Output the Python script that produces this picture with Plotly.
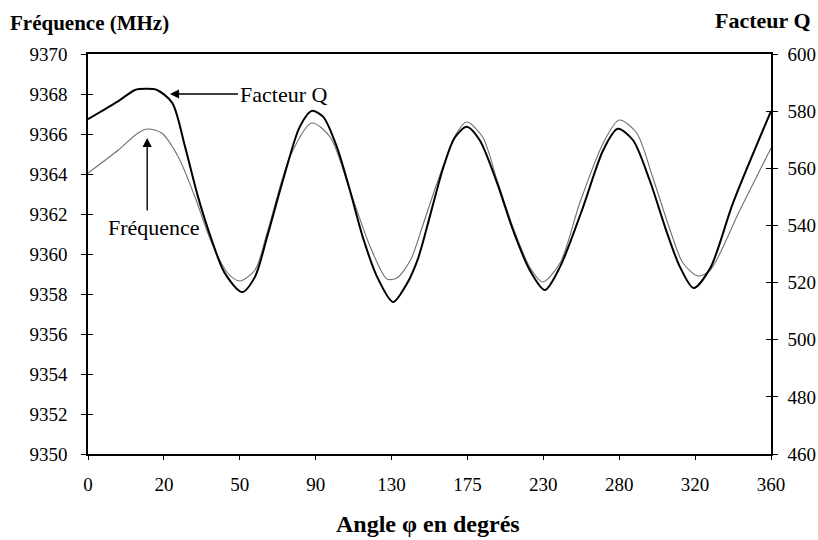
import plotly.graph_objects as go

# Category tick labels (angle in degrees), evenly spaced on the axis
angle_labels = ["0", "20", "50", "90", "130", "175", "230", "280", "320", "360"]
tick_pos = list(range(len(angle_labels)))

# Facteur Q (right axis) - position along the category axis and value
q_pos = [0.00, 0.16, 0.40, 0.62, 0.76, 0.91, 1.11, 1.28, 1.45, 1.63, 1.80, 2.03, 2.20, 2.36,
         2.57, 2.79, 2.95, 3.10, 3.28, 3.45, 3.62, 3.81, 4.02, 4.20, 4.35, 4.51, 4.68, 4.83,
         4.99, 5.16, 5.39, 5.60, 5.82, 6.02, 6.22, 6.51, 6.79, 6.98, 7.18, 7.40, 7.63, 7.80,
         7.98, 8.20, 8.50, 9.00]
q_val = [577.2, 579.7, 583.5, 587.4, 587.8, 587.4, 582.9, 567.4, 550.0, 534.9, 523.4, 516.7,
         522.0, 536.0, 555.9, 574.5, 580.1, 578.0, 567.4, 552.4, 536.0, 522.0, 513.2, 519.5,
         528.5, 543.7, 560.1, 570.6, 574.5, 569.9, 554.9, 538.4, 524.4, 517.4, 525.5, 545.4,
         566.4, 573.8, 569.9, 555.9, 537.4, 525.5, 518.1, 525.1, 547.9, 580.0]

# Fréquence (left axis, MHz)
f_pos = [0.00, 0.40, 0.66, 0.79, 0.97, 1.19, 1.41, 1.63, 1.84, 2.00, 2.20, 2.36, 2.66, 2.95,
         3.19, 3.45, 3.72, 3.94, 4.07, 4.25, 4.40, 4.55, 4.70, 4.85, 4.99, 5.20, 5.39, 5.60,
         5.82, 5.99, 6.22, 6.48, 6.79, 7.00, 7.23, 7.44, 7.67, 7.84, 8.04, 8.20, 8.59, 9.00]
f_val = [9364.05, 9365.2, 9366.05, 9366.25, 9366.05, 9364.85, 9362.85, 9360.55, 9359.05,
         9358.65, 9359.2, 9361.05, 9364.85, 9366.55, 9365.85, 9363.2, 9360.35, 9358.75,
         9358.8, 9359.7, 9361.3, 9363.0, 9364.6, 9366.0, 9366.6, 9365.85, 9363.7, 9361.35,
         9359.35, 9358.6, 9359.55, 9362.55, 9365.55, 9366.7, 9366.05, 9363.85, 9361.2,
         9359.55, 9358.9, 9359.2, 9362.2, 9365.3]

FONT = "Liberation Serif"
PW, PH = 683.0, 400.0  # plot area size in px

fig = go.Figure()
fig.add_trace(go.Scatter(x=f_pos, y=f_val, mode="lines", yaxis="y",
                         line=dict(color="#707070", width=1.1, shape="spline", smoothing=0.8),
                         name="Fréquence"))
fig.add_trace(go.Scatter(x=q_pos, y=q_val, mode="lines", yaxis="y2",
                         line=dict(color="black", width=2, shape="spline", smoothing=0.8),
                         name="Facteur Q"))
# invisible traces to anchor the inner-tick axes
fig.add_trace(go.Scatter(x=[None], y=[None], yaxis="y3", showlegend=False, hoverinfo="skip"))
fig.add_trace(go.Scatter(x=[None], y=[None], yaxis="y4", showlegend=False, hoverinfo="skip"))

tickfont = dict(family=FONT, size=19, color="black")

fig.update_layout(
    width=818, height=540,
    margin=dict(l=88, r=47, t=54, b=86),
    paper_bgcolor="white", plot_bgcolor="white",
    showlegend=False,
    font=dict(family=FONT, color="black"),
    xaxis=dict(range=[0, 9], tickvals=tick_pos, ticktext=angle_labels, automargin=False,
               showline=True, linecolor="black", linewidth=1.5, mirror=True,
               ticks="outside", ticklen=4, tickcolor="black", ticklabelstandoff=8,
               showgrid=False, zeroline=False, tickfont=tickfont),
    yaxis=dict(range=[9350, 9370], dtick=2, showline=True, linecolor="black", linewidth=1.5,
               ticks="outside", ticklen=5, tickcolor="black", showgrid=False, zeroline=False,
               tickfont=tickfont, ticklabelstandoff=10, automargin=False),
    yaxis2=dict(range=[460, 600], dtick=20, overlaying="y", side="right", automargin=False,
                showline=True, linecolor="black", linewidth=1.5,
                ticks="outside", ticklen=5, tickcolor="black", showgrid=False, zeroline=False,
                tickfont=tickfont, ticklabelstandoff=6),
    yaxis3=dict(range=[9350, 9370], dtick=2, overlaying="y", side="left", automargin=False,
                showline=False, ticks="inside", ticklen=5, tickcolor="black",
                showticklabels=False, showgrid=False, zeroline=False),
    yaxis4=dict(range=[460, 600], dtick=20, overlaying="y", side="right", automargin=False,
                showline=False, ticks="inside", ticklen=5, tickcolor="black",
                showticklabels=False, showgrid=False, zeroline=False),
)

# Axis titles
fig.add_annotation(text="<b>Fréquence (MHz)</b>", xref="paper", yref="paper",
                   x=-80 / PW, y=1 + 31 / PH, xanchor="left", yanchor="middle",
                   showarrow=False, font=dict(family=FONT, size=21))
fig.add_annotation(text="<b>Facteur Q</b>", xref="paper", yref="paper",
                   x=(813 - 88) / PW, y=1 + 33 / PH, xanchor="right", yanchor="middle",
                   showarrow=False, font=dict(family=FONT, size=22))
fig.add_annotation(text="<b>Angle φ en degrés</b>", xref="paper", yref="paper",
                   x=(428 - 88) / PW, y=-70 / PH, xanchor="center", yanchor="middle",
                   showarrow=False, font=dict(family=FONT, size=24))

# Callouts
fig.add_annotation(text="Facteur Q", x=1.08, y=9368, xref="x", yref="y",
                   ax=2.57, ay=9368, axref="x", ayref="y",
                   showarrow=True, arrowhead=2, arrowsize=1.3, arrowwidth=1.4,
                   arrowcolor="black", font=dict(family=FONT, size=22))
fig.add_annotation(text="", x=0.78, y=9365.8, xref="x", yref="y",
                   ax=0.78, ay=9362.1, axref="x", ayref="y",
                   showarrow=True, arrowhead=2, arrowsize=1.3, arrowwidth=1.4,
                   arrowcolor="black")
fig.add_annotation(text="Fréquence", x=0.87, y=9361.35, xref="x", yref="y",
                   showarrow=False, font=dict(family=FONT, size=22))

fig.write_html("out.html")
